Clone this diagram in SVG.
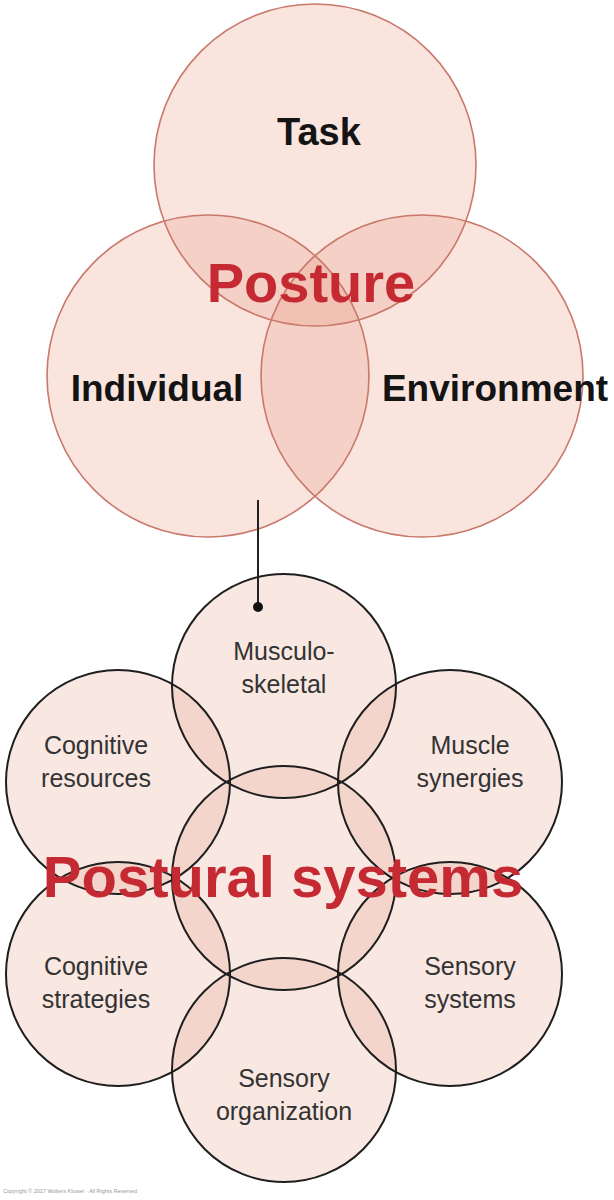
<svg xmlns="http://www.w3.org/2000/svg" width="614" height="1200" viewBox="0 0 614 1200">
<style>
.tf{fill:#ea9c86;fill-opacity:0.27;stroke:none}
.ts{fill:none;stroke:#c9786a;stroke-width:1.6}
.bf{fill:#e8a08a;fill-opacity:0.25;stroke:none}
.bs{fill:none;stroke:#1e1e1e;stroke-width:2}
.big{font-family:"Liberation Sans",Arial,sans-serif;font-weight:bold;fill:#141414;text-anchor:middle}
.red{font-family:"Liberation Sans",Arial,sans-serif;font-weight:bold;fill:#c52a33;text-anchor:middle}
.lab{font-family:"Liberation Sans",Arial,sans-serif;font-size:25px;fill:#333;text-anchor:middle}
</style>
<rect width="614" height="1200" fill="#fff"/>
<g id="top-fills">
<circle class="tf" cx="315" cy="165" r="161"/>
<circle class="tf" cx="208" cy="376" r="161"/>
<circle class="tf" cx="422" cy="376" r="161"/>
</g>
<g id="task"><circle class="ts" cx="315" cy="165" r="161"/><text class="big" x="319" y="145" font-size="38">Task</text></g>
<g id="individual"><circle class="ts" cx="208" cy="376" r="161"/><text class="big" x="157" y="401" font-size="37">Individual</text></g>
<g id="environment"><circle class="ts" cx="422" cy="376" r="161"/><text class="big" x="495" y="401" font-size="37">Environment</text></g>
<g id="posture"><text class="red" x="311" y="302" font-size="56">Posture</text></g>
<g id="bottom-fills">
<circle class="bf" cx="284" cy="686" r="112"/>
<circle class="bf" cx="118" cy="782" r="112"/>
<circle class="bf" cx="450" cy="782" r="112"/>
<circle class="bf" cx="284" cy="878" r="112"/>
<circle class="bf" cx="118" cy="974" r="112"/>
<circle class="bf" cx="450" cy="974" r="112"/>
<circle class="bf" cx="284" cy="1070" r="112"/>
</g>
<g id="musculoskeletal"><circle class="bs" cx="284" cy="686" r="112"/><text class="lab" x="284" y="660">Musculo-</text><text class="lab" x="284" y="693">skeletal</text></g>
<g id="cognitive-resources"><circle class="bs" cx="118" cy="782" r="112"/><text class="lab" x="96" y="754">Cognitive</text><text class="lab" x="96" y="787">resources</text></g>
<g id="muscle-synergies"><circle class="bs" cx="450" cy="782" r="112"/><text class="lab" x="470" y="754">Muscle</text><text class="lab" x="470" y="787">synergies</text></g>
<g id="center"><circle class="bs" cx="284" cy="878" r="112"/></g>
<g id="cognitive-strategies"><circle class="bs" cx="118" cy="974" r="112"/><text class="lab" x="96" y="975">Cognitive</text><text class="lab" x="96" y="1008">strategies</text></g>
<g id="sensory-systems"><circle class="bs" cx="450" cy="974" r="112"/><text class="lab" x="470" y="975">Sensory</text><text class="lab" x="470" y="1008">systems</text></g>
<g id="sensory-organization"><circle class="bs" cx="284" cy="1070" r="112"/><text class="lab" x="284" y="1087">Sensory</text><text class="lab" x="284" y="1120">organization</text></g>
<g id="postural-systems"><text class="red" x="283" y="897" font-size="58">Postural systems</text></g>
<g id="connectors">
<line x1="258" y1="500" x2="258" y2="607" stroke="#222" stroke-width="2"/>
<circle cx="258" cy="607" r="5" fill="#111"/>
</g>
<text x="3" y="1193" font-family="Liberation Sans,Arial,sans-serif" font-size="5.5" fill="#999">Copyright © 2017 Wolters Kluwer · All Rights Reserved</text>
</svg>
